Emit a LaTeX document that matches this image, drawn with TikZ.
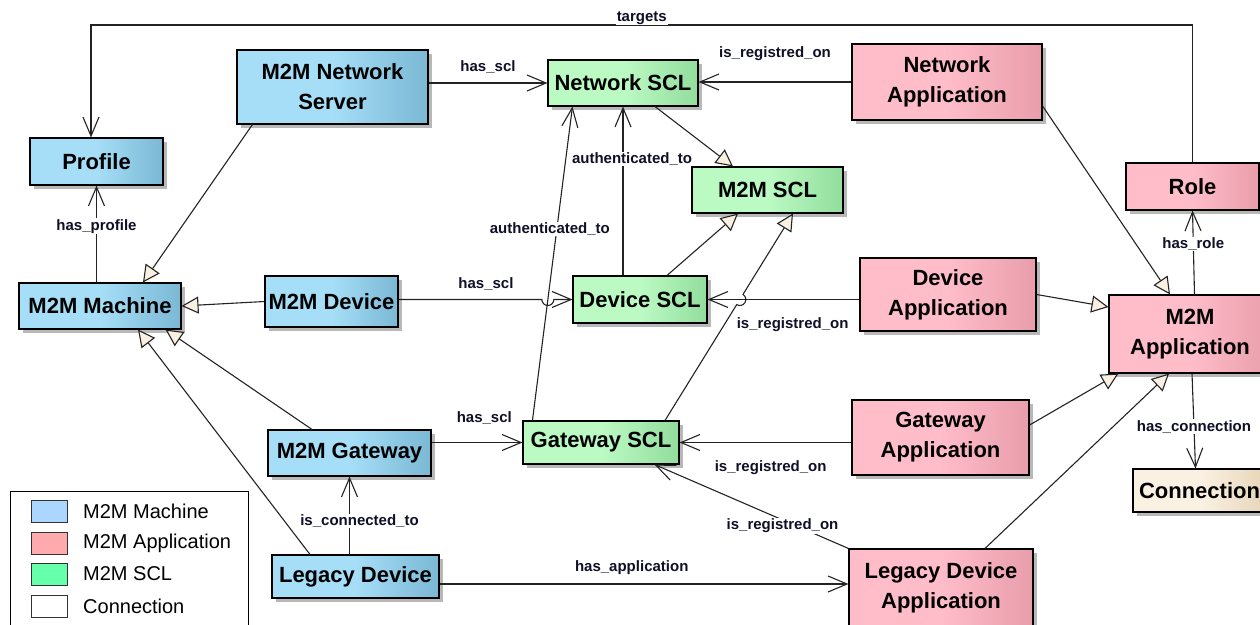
\documentclass[tikz,border=0pt]{standalone}
\usepackage{fontspec}
\setmainfont{Liberation Sans}
\usetikzlibrary{positioning,arrows.meta,shadows,calc}

\definecolor{machL}{RGB}{166,222,247}
\definecolor{machR}{RGB}{122,184,212}
\definecolor{applL}{RGB}{255,189,201}
\definecolor{applR}{RGB}{233,157,171}
\definecolor{sclL}{RGB}{188,250,196}
\definecolor{sclR}{RGB}{146,221,156}
\definecolor{connL}{RGB}{251,241,227}
\definecolor{connR}{RGB}{231,213,185}
\definecolor{trifill}{RGB}{250,240,226}
\definecolor{edgegray}{RGB}{35,35,35}
\definecolor{lblcol}{RGB}{15,15,40}
\definecolor{legblue}{RGB}{170,214,255}
\definecolor{legpink}{RGB}{255,170,172}
\definecolor{leggreen}{RGB}{102,255,170}

\tikzset{
	box/.style={draw=black, line width=1.1pt, align=center, inner sep=2pt,
		font=\fontsize{22}{30}\selectfont\bfseries,
		drop shadow={shadow xshift=4pt, shadow yshift=-4pt, fill=black!28, opacity=1}},
	machine/.style={box, left color=machL, right color=machR, middle color=machL},
	appl/.style={box, left color=applL, right color=applR, middle color=applL},
	scl/.style={box, left color=sclL, right color=sclR, middle color=sclL},
	connbox/.style={box, left color=connL, right color=connR, middle color=connL},
	assoc/.style={color=edgegray, line width=1.1pt, -{Straight Barb[length=19pt,width=16pt]}},
	gen/.style={color=edgegray, line width=1.1pt, -{Triangle[length=17pt,width=17pt,fill=trifill]}},
	lbl/.style={font=\fontsize{15}{16}\selectfont\bfseries, text=lblcol, inner sep=1pt},
	legsq/.style={draw=black!80, line width=1pt, minimum width=36pt, minimum height=22pt, inner sep=0pt},
	legtxt/.style={font=\fontsize{20}{24}\selectfont, inner sep=0pt}
}

\begin{document}
\begin{tikzpicture}[x=1pt,y=-1pt]
	\useasboundingbox (0,0) rectangle (1260,624);
	\node[machine, minimum width=133pt, minimum height=47pt] (prof) at (96.5,161.5) {Profile};
	\node[machine, minimum width=162pt, minimum height=46pt] (mach) at (100,306) {M2M Machine};
	\node[machine, minimum width=191pt, minimum height=74pt] (nserv) at (332.5,87) {M2M Network\\Server};
	\node[machine, minimum width=133pt, minimum height=51pt] (mdev) at (331.5,301.5) {M2M Device};
	\node[machine, minimum width=163pt, minimum height=46pt] (mgw) at (349.5,453) {M2M Gateway};
	\node[machine, minimum width=167pt, minimum height=43pt] (ldev) at (355.5,576.5) {Legacy Device};
	\node[scl, minimum width=150pt, minimum height=46pt] (nscl) at (623,83) {Network SCL};
	\node[scl, minimum width=151pt, minimum height=46pt] (mscl) at (767.5,190) {M2M SCL};
	\node[scl, minimum width=134pt, minimum height=47pt] (dscl) at (640,299.5) {Device SCL};
	\node[scl, minimum width=156pt, minimum height=43pt] (gscl) at (601,442.5) {Gateway SCL};
	\node[appl, minimum width=190pt, minimum height=76pt] (napp) at (947,82) {Network\\Application};
	\node[appl, minimum width=133pt, minimum height=47pt] (role) at (1192.5,186.5) {Role};
	\node[appl, minimum width=176pt, minimum height=73pt] (dapp) at (948,294.5) {Device\\Application};
	\node[appl, minimum width=162pt, minimum height=78pt] (mapp) at (1190,334) {M2M\\Application};
	\node[appl, minimum width=177pt, minimum height=75pt] (gapp) at (940.5,437.5) {Gateway\\Application};
	\node[connbox, minimum width=133pt, minimum height=43pt] (conn) at (1199.5,490.5) {Connection};
	\node[appl, minimum width=184pt, minimum height=78pt] (lapp) at (941,588) {Legacy Device\\Application};

	\coordinate (top) at (0,25);
	\coordinate (pin) at ([xshift=-5.5pt]prof.north);
	\coordinate (lw) at ([yshift=-7.5pt]ldev.east);
	\coordinate (dr) at (dapp.west |- dscl.east);
	\coordinate (ds) at (mdev.east |- dscl.west);
	\coordinate (a1) at ([xshift=10pt]gscl.north west);
	\coordinate (a2) at ([xshift=25pt]nscl.south west);
	\coordinate (g1) at ([xshift=64pt]gscl.north);
	\coordinate (g2) at ([xshift=25.5pt]mscl.south);
	\coordinate (hy) at (intersection of a1--a2 and ds--dscl.west);
	\coordinate (hx) at (intersection of g1--g2 and dscl.east--dr);

\path[gen]
	([xshift=16pt]nserv.south west) edge ([xshift=43pt]mach.north)
	(mdev.west) edge (mach.east)
	([xshift=-37.5pt]mgw.north) edge ([xshift=-16pt]mach.south east)
	([xshift=-45.5pt]ldev.north) edge ([xshift=38pt]mach.south)
	([xshift=32pt]nscl.south) edge ([xshift=-34.5pt]mscl.north)
	([xshift=27pt]dscl.north) edge ([xshift=-29.5pt]mscl.south)
	(dapp.east) edge ([yshift=27pt]mapp.west)
	([yshift=-24pt]napp.east) edge ([xshift=-20pt]mapp.north)
	([yshift=12.5pt]gapp.east) edge ([xshift=10pt]mapp.south west)
	([xshift=44pt]lapp.north) edge ([xshift=-21pt]mapp.south);
\draw[gen] (g1) -- ($(hx)!6pt!(g1)$) arc[start angle=238.4, end angle=418.4, radius=6pt] -- (g2);

\path[assoc]
	(prof.south |- mach.north) edge node[lbl, fill=white, pos=.58] {has\_profile} (prof.south)
	(mgw.south |- ldev.north) edge node[lbl, fill=white, pos=.43, xshift=10pt] {is\_connected\_to} (mgw.south)
	(lw) edge node[lbl, above=8pt, pos=.47] {has\_application} (lw -| lapp.west)
	(nserv.east |- nscl.west) edge node[lbl, above=8pt] {has\_scl} (nscl.west)
	(napp.west) edge node[lbl, above=20pt] {is\_registred\_on} (napp.west -| nscl.east)
	(nscl.south |- dscl.north) edge node[lbl, fill=white, pos=.69, xshift=9pt] {authenticated\_to} (nscl.south)
	(a1) edge node[lbl, fill=white, pos=.61, xshift=-7pt] {authenticated\_to} (a2)
	(dr) edge node[lbl, below=16.5pt, pos=.44] {is\_registred\_on} (dscl.east)
	([xshift=4.5pt]mapp.north) edge node[lbl, fill=white, pos=.6] {has\_role} (role.south)
	([xshift=2pt]mapp.south) edge node[lbl, fill=white, pos=.56] {has\_connection} ([xshift=-4pt]conn.north)
	(mgw.east |- gscl.west) edge node[lbl, above=16.5pt, pos=.58] {has\_scl} (gscl.west)
	(gapp.west |- gscl.east) edge node[lbl, below=16.5pt, pos=.47] {is\_registred\_on} (gscl.east)
	(lapp.north west) edge node[lbl, fill=white, pos=.34, yshift=-6pt] {is\_registred\_on} ([xshift=-25pt]gscl.south east);
\draw[assoc] (ds) -- node[lbl, above=7.5pt, pos=.61] {has\_scl} ([xshift=-6pt]hy) arc[start angle=180, end angle=360, radius=6pt] -- (dscl.west);
\draw[assoc] (role.north) -- (role.north |- top) -- node[lbl, fill=white, yshift=7pt] {targets} (pin |- top) -- (pin);

	\draw[line width=1pt] (10,491) rectangle (248,640);
	\node[legsq, fill=legblue] (lg1) at (49.5,511.5) {};
	\node[legtxt, right=15pt of lg1] (lt1) {M2M Machine};
	\node[legsq, fill=legpink] (lg2) at (49.5,543) {};
	\node[legtxt, right=15pt of lg2] (lt2) {M2M Application};
	\node[legsq, fill=leggreen] (lg3) at (49.5,574) {};
	\node[legtxt, right=15pt of lg3] (lt3) {M2M SCL};
	\node[legsq, fill=white] (lg4) at (49.5,606.5) {};
	\node[legtxt, right=15pt of lg4] (lt4) {Connection};
\end{tikzpicture}
\end{document}
